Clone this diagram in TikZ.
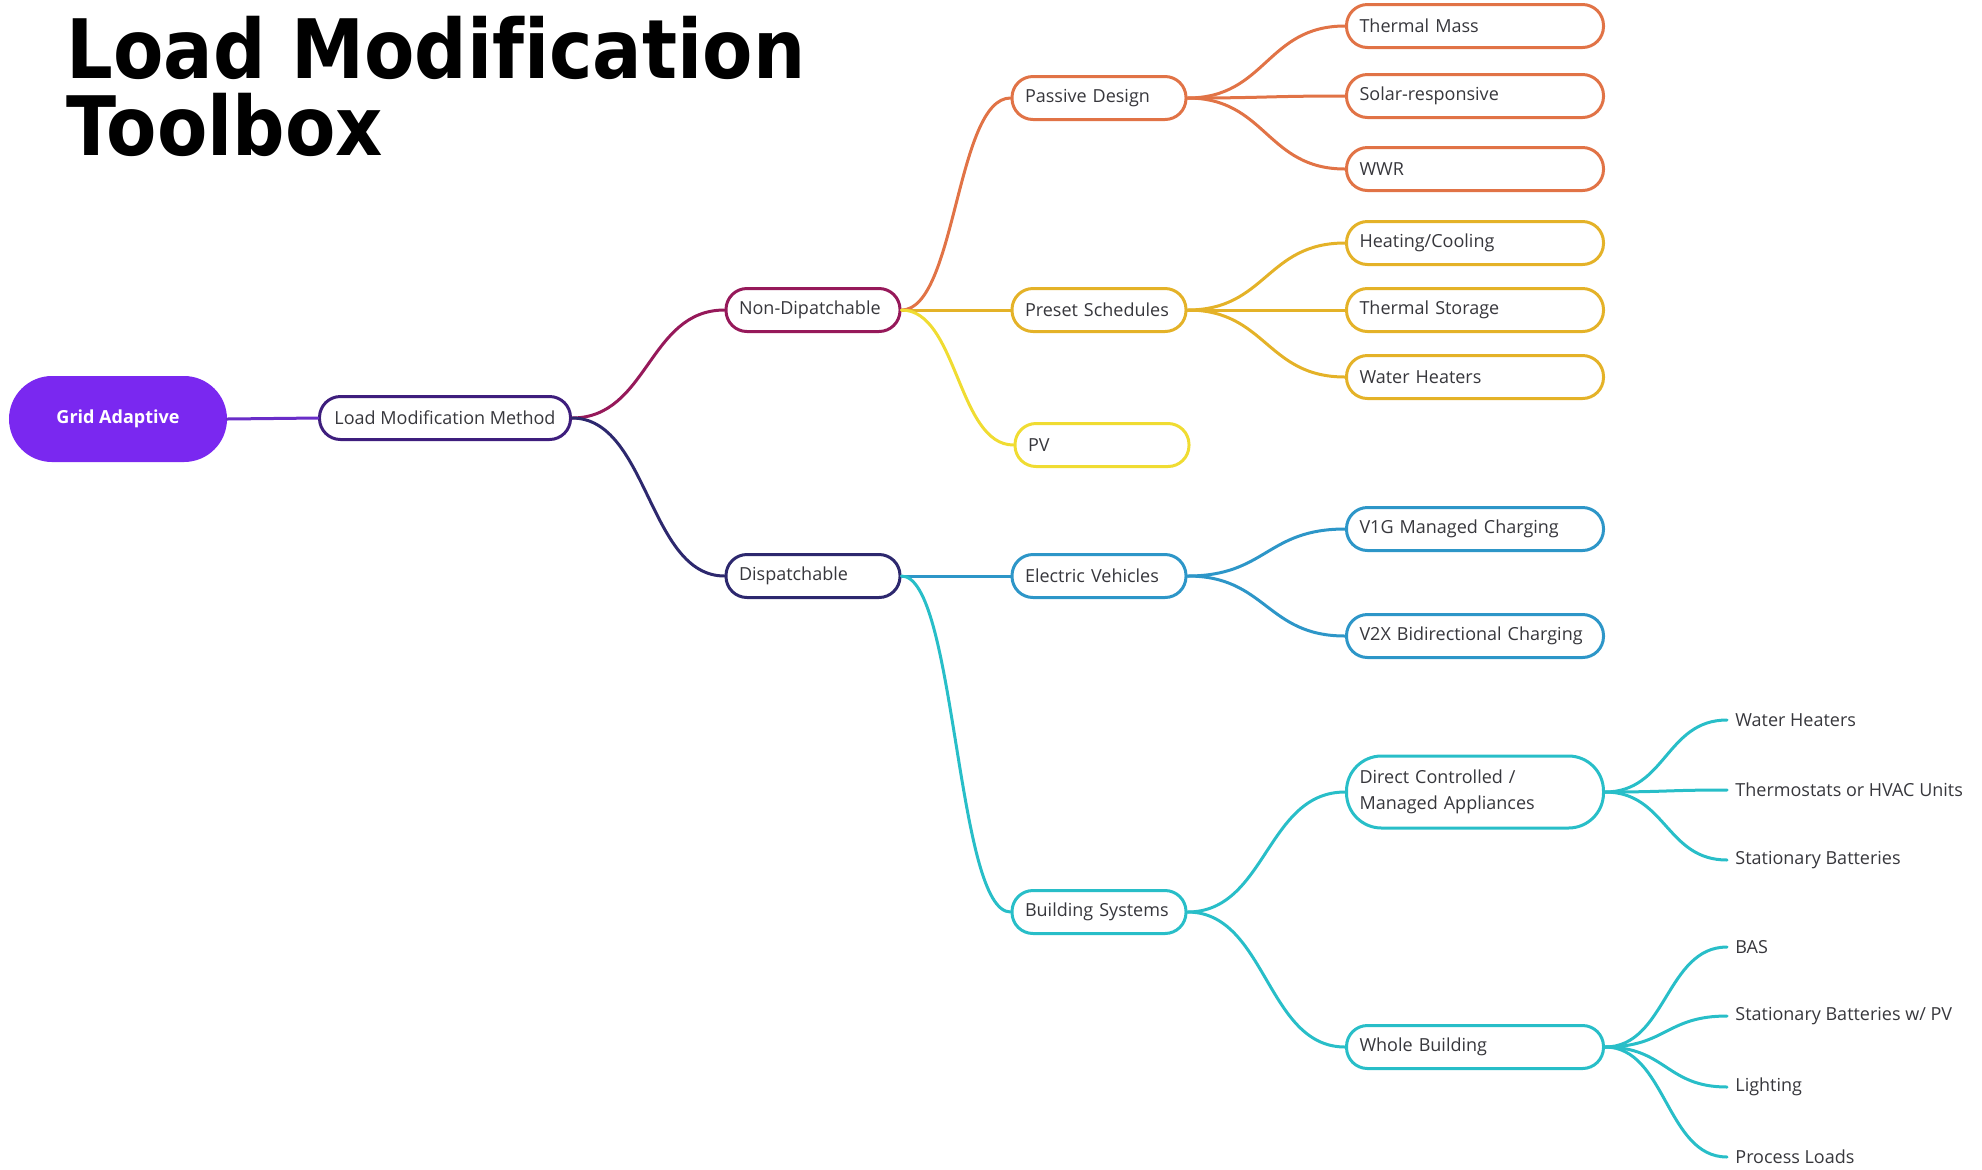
\documentclass[tikz,border=0pt]{standalone}
\usepackage{fontspec}
\setmainfont{Open Sans}
\newfontfamily\bodyfont{Open Sans}
\newfontfamily\titlefont[FakeStretch=0.895, Ligatures=NoCommon]{DejaVu Sans}
\usetikzlibrary{calc}
\definecolor{txt}{RGB}{55,55,60}
\definecolor{cgrid}{RGB}{122,40,240}
\definecolor{cgridl}{RGB}{105,45,200}
\definecolor{clmm}{RGB}{62,30,125}
\definecolor{cnon}{RGB}{150,25,90}
\definecolor{cdis}{RGB}{45,40,110}
\definecolor{corange}{RGB}{225,115,70}
\definecolor{cgold}{RGB}{228,178,40}
\definecolor{cyel}{RGB}{240,220,50}
\definecolor{cblue}{RGB}{45,150,200}
\definecolor{cteal}{RGB}{40,190,200}
\tikzset{
  mm/.style={to path={.. controls ($(\tikztostart)!0.5!(\tikztostart -| \tikztotarget)$) and ($(\tikztotarget)!0.5!(\tikztotarget -| \tikztostart)$) .. (\tikztotarget)}},
  edge/.style={line width=1.5pt, line cap=round},
  box/.style={draw, line width=1.5pt, rounded corners=10.5pt, minimum height=21.5pt, inner xsep=6.5pt, inner ysep=0pt, align=left, fill=white, text=txt, font=\bodyfont\fontsize{9}{13.3}\selectfont},
  lvtwo/.style={box, text width=74pt},
  lvthree/.style={box, text width=115.5pt},
  leaf/.style={inner xsep=4pt, inner ysep=0pt, anchor=west, text=txt, font=\bodyfont\fontsize{9}{11}\selectfont},
  ttl/.style={inner sep=0pt, anchor=base west, font=\titlefont\bfseries\fontsize{41}{41}\selectfont}
}
\begin{document}
\begin{tikzpicture}[x={(0.5pt,0)}, y={(0,-0.5pt)}]
\useasboundingbox (0,0) rectangle (1982,1169);
% title
\node[ttl] (t1) at (66,78) {Load Modification};
\node[ttl] (t2) at (66,155) {Toolbox};
% root
\node[draw=cgrid, fill=cgrid, line width=1pt, rounded corners=21pt, minimum width=108pt, minimum height=42pt, text=white, font=\bodyfont\bfseries\fontsize{9}{11}\selectfont] (grid) at (118,419) {Grid Adaptive};
\node[box, draw=clmm, inner xsep=7.5pt] (lmm) at (445,418) {Load Modification Method};
% level 1
\node[lvtwo, draw=cnon] (non) at (813,310) {Non-Dipatchable};
\node[lvtwo, draw=cdis] (dis) at (813,576) {Dispatchable};
% level 2
\node[lvtwo, draw=corange] (pas) at (1099,98) {Passive Design};
\node[lvtwo, draw=cgold] (pre) at (1099,310) {Preset Schedules};
\node[lvtwo, draw=cyel] (pv) at (1102,445) {PV};
\node[lvtwo, draw=cblue] (ev) at (1099,576) {Electric Vehicles};
\node[lvtwo, draw=cteal] (bs) at (1099,912) {Building Systems};
% level 3
\node[lvthree, draw=corange] (tm) at (1475,26) {Thermal Mass};
\node[lvthree, draw=corange] (sr) at (1475,96) {Solar-responsive};
\node[lvthree, draw=corange] (wwr) at (1475,169) {WWR};
\node[lvthree, draw=cgold] (hc) at (1475,243) {Heating/Cooling};
\node[lvthree, draw=cgold] (ts) at (1475,310) {Thermal Storage};
\node[lvthree, draw=cgold] (wh) at (1475,377) {Water Heaters};
\node[lvthree, draw=cblue] (v1g) at (1475,529) {V1G Managed Charging};
\node[lvthree, draw=cblue] (v2x) at (1475,636) {V2X Bidirectional Charging};
\node[lvthree, draw=cteal, minimum height=36pt, rounded corners=17.5pt] (dc) at (1475,792) {Direct Controlled /\\Managed Appliances};
\node[lvthree, draw=cteal] (wb) at (1475,1047) {Whole Building};
% leaves
\node[leaf] (l1) at (1727,720) {Water Heaters};
\node[leaf] (l2) at (1727,790) {Thermostats or HVAC Units};
\node[leaf] (l3) at (1727,860) {Stationary Batteries};
\node[leaf] (l4) at (1727,947) {BAS};
\node[leaf] (l5) at (1727,1016) {Stationary Batteries w/ PV};
\node[leaf] (l6) at (1727,1087) {Lighting};
\node[leaf] (l7) at (1727,1157) {Process Loads};
% edges
\draw[edge, cgridl] (grid.east) -- (lmm.west);
\draw[edge, cnon] (lmm.east) to[mm] (non.west);
\draw[edge, cdis] (lmm.east) to[mm] (dis.west);
\draw[edge, corange] (non.east) to[mm] (pas.west);
\draw[edge, cgold] (non.east) to[mm] (pre.west);
\draw[edge, cyel] (non.east) to[mm] (pv.west);
\draw[edge, cblue] (dis.east) to[mm] (ev.west);
\draw[edge, cteal] (dis.east) to[mm] (bs.west);
\draw[edge, corange] (pas.east) to[mm] (tm.west);
\draw[edge, corange] (pas.east) to[mm] (sr.west);
\draw[edge, corange] (pas.east) to[mm] (wwr.west);
\draw[edge, cgold] (pre.east) to[mm] (hc.west);
\draw[edge, cgold] (pre.east) to[mm] (ts.west);
\draw[edge, cgold] (pre.east) to[mm] (wh.west);
\draw[edge, cblue] (ev.east) to[mm] (v1g.west);
\draw[edge, cblue] (ev.east) to[mm] (v2x.west);
\draw[edge, cteal] (bs.east) to[mm] (dc.west);
\draw[edge, cteal] (bs.east) to[mm] (wb.west);
\draw[edge, cteal] (dc.east) to[mm] (l1.west);
\draw[edge, cteal] (dc.east) to[mm] (l2.west);
\draw[edge, cteal] (dc.east) to[mm] (l3.west);
\draw[edge, cteal] (wb.east) to[mm] (l4.west);
\draw[edge, cteal] (wb.east) to[mm] (l5.west);
\draw[edge, cteal] (wb.east) to[mm] (l6.west);
\draw[edge, cteal] (wb.east) to[mm] (l7.west);
\end{tikzpicture}
\end{document}
